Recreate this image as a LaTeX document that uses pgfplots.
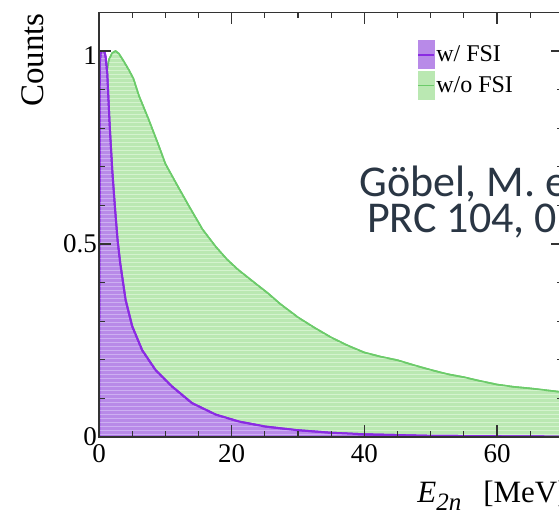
\documentclass[border=0pt]{standalone}
\usepackage{fontspec}
\setmainfont{Liberation Serif}
\newfontfamily\carlito{Carlito}
\usepackage{pgfplots}
\usepackage{pgfplotstable}
\pgfplotsset{compat=1.18}
\usetikzlibrary{patterns.meta}
\definecolor{fsiline}{HTML}{8A2BE2}
\definecolor{fsifill}{HTML}{B88AE8}
\definecolor{fsistripe}{HTML}{CDB0F2}
\definecolor{nofsiline}{HTML}{6CCB6A}
\definecolor{nofsifill}{HTML}{BAE8B2}
\definecolor{nofsistripe}{HTML}{D4F3CE}
\definecolor{annot}{HTML}{2A3644}

\pgfplotstableread{
x y
0 0
0.12 0.97
0.3 1.0
0.8 1.0
1.0 0.985
1.25 0.94
1.6 0.81
2.0 0.69
2.4 0.595
2.8 0.51
3.2 0.45
4.0 0.356
5.0 0.287
6.5 0.225
8.5 0.174
11.0 0.131
14.0 0.088
17.6 0.058
21.1 0.040
25.1 0.027
29.7 0.018
35 0.011
40 0.007
45 0.005
50 0.003
60 0.002
70 0.001
}\fsitable

\pgfplotstableread{
x y
0 0
0.2 0.45
0.5 0.78
1.0 0.93
1.5 0.978
2.0 0.995
2.5 1.0
3.0 0.993
3.6 0.977
4.5 0.951
5.2 0.928
6.0 0.885
7.5 0.822
9.0 0.755
10.0 0.708
11.6 0.658
13.6 0.597
15.6 0.538
17.6 0.493
19.3 0.460
21.0 0.433
23.2 0.403
25.5 0.372
27.3 0.345
30.0 0.310
32.5 0.283
35.0 0.258
37.5 0.237
40.0 0.219
42.5 0.208
45.0 0.199
47.5 0.186
50.0 0.174
52.5 0.163
55.0 0.155
57.5 0.145
60.0 0.136
62.5 0.130
65.0 0.126
67.5 0.121
70.0 0.116
}\nofsitable

\begin{document}
\begin{tikzpicture}
\path[use as bounding box] (0,0) rectangle (279.5pt,257.5pt);
\clip (0,0) rectangle (279.5pt,257.5pt);
\begin{axis}[
  at={(49.5pt,39pt)}, anchor=south west,
  scale only axis, width=232.2pt, height=212.3pt,
  xmin=0, xmax=70, ymin=0, ymax=1.1,
  axis on top,
  axis line style={black!80, line width=0.6pt},
  tick align=inside,
  major tick length=6pt, minor tick length=3pt,
  every tick/.style={black!80, line width=0.6pt},
  xtick={0,20,40,60}, xticklabels={0,20,40,60},
  minor xtick={5,10,15,25,30,35,45,50,55,65},
  ytick={0,0.5}, yticklabels={0,0.5},
  extra y ticks={1}, extra y tick labels={1},
  extra y tick style={yticklabel style={yshift=-2.5pt}},
  minor ytick={0.1,0.2,0.3,0.4,0.6,0.7,0.8,0.9},
  ticklabel style={font=\fontsize{13.5}{15}\selectfont},
  yticklabel style={xshift=2.5pt},
  legend style={at={(0.685,0.935)}, anchor=north west, draw=none, fill=none,
    inner sep=0pt, font=\fontsize{12}{14}\selectfont, row sep=1pt,
    nodes={inner sep=0.6pt}},
  legend cell align=left,
]
\addlegendimage{legend image code/.code={
  \fill[fsifill] (0pt,-7pt) rectangle (8pt,7pt);
  \draw[fsiline, line width=0.8pt] (0pt,0pt) -- (8pt,0pt);}}
\addlegendentry{w/ FSI}
\addlegendimage{legend image code/.code={
  \fill[nofsifill] (0pt,-7pt) rectangle (8pt,7pt);
  \draw[nofsiline, line width=0.8pt] (0pt,0pt) -- (8pt,0pt);}}
\addlegendentry{w/o FSI}

\addplot[forget plot, fill=nofsifill, draw=nofsiline, line width=0.8pt,
  postaction={pattern={Lines[angle=0,distance=2pt,line width=0.5pt]}, pattern color=nofsistripe}]
  table[x=x,y=y] {\nofsitable} \closedcycle;
\addplot[forget plot, fill=fsifill, draw=fsiline, line width=1pt,
  postaction={pattern={Lines[angle=0,distance=2pt,line width=0.5pt]}, pattern color=fsistripe}]
  table[x=x,y=y] {\fsitable} \closedcycle;
\end{axis}
\node[rotate=90, anchor=base east, inner sep=0pt, font=\fontsize{16.5}{18}\selectfont] at (21.5pt,251pt) {Counts};
\node[anchor=base west, inner sep=0pt, font=\fontsize{15.5}{18}\selectfont] at (208.5pt,6pt) {\textit{E}\raisebox{-4pt}{\fontsize{12.5}{14}\selectfont\textit{2n}}\hspace{11pt}[MeV]};
\node[anchor=base west, inner sep=0pt, text=annot, font=\carlito\fontsize{22}{26}\selectfont] at (179.6pt,159pt) {Göbel, M. et al.,};
\node[anchor=base west, inner sep=0pt, text=annot, font=\carlito\fontsize{22}{26}\selectfont] at (183.4pt,141pt) {PRC 104, 024001 (2021)};
\end{tikzpicture}
\end{document}
